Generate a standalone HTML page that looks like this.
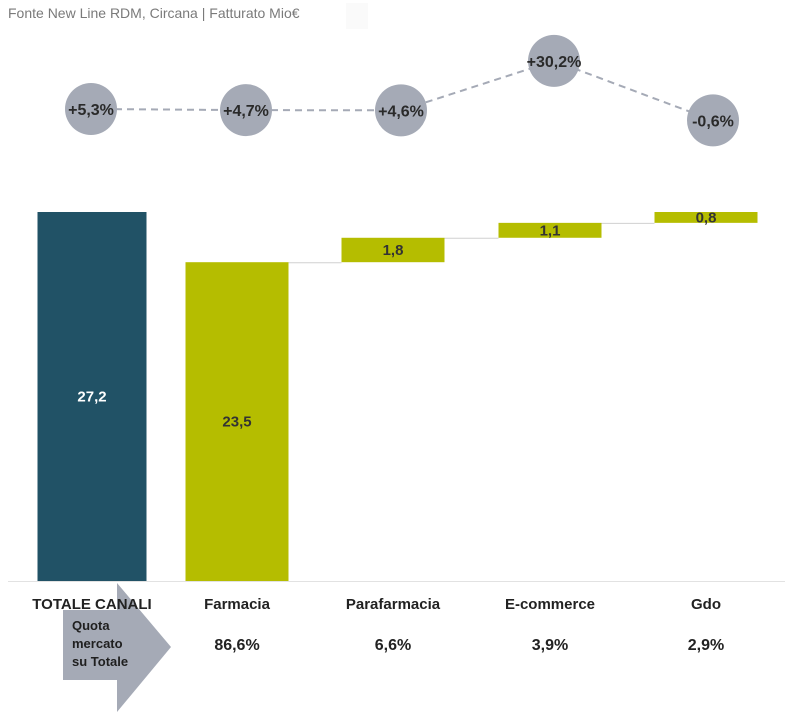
<!DOCTYPE html>
<html><head><meta charset="utf-8"><style>
body{margin:0;background:#fff;width:795px;height:719px;overflow:hidden;font-family:"Liberation Sans",sans-serif}
svg{display:block}
</style></head><body>
<svg width="795" height="719" id="c">
<text x="8" y="18" font-size="14" fill="#7a7a7a">Fonte New Line RDM, Circana | Fatturato Mio€</text>
<rect x="346" y="3" width="22" height="26" fill="#fafafa"/>
<line x1="8" y1="581.5" x2="785" y2="581.5" stroke="#e2e2e2"/>
<polygon points="63,610 117,610 117,583 171,647 117,712 117,680 63,680" fill="#a5aab6"/>
<text font-size="13" font-weight="bold" fill="#1f1f1f"><tspan x="72" y="630">Quota</tspan><tspan x="72" y="648">mercato</tspan><tspan x="72" y="666">su Totale</tspan></text>
<g id="g"></g>
</svg>
<script>
const categories=["TOTALE CANALI","Farmacia","Parafarmacia","E-commerce","Gdo"];
const values=[27.2,23.5,1.8,1.1,0.8];
const growth=[5.3,4.7,4.6,30.2,-0.6];
const growthLabels=["+5,3%","+4,7%","+4,6%","+30,2%","-0,6%"];
const shares=["","86,6%","6,6%","3,9%","2,9%"];
const NS="http://www.w3.org/2000/svg";
const g=document.getElementById('g');
const base=581, scale=369/27.2;
const centers=[92,237,393,550,706];
const widths=[109,103,103,103,103];
const gx=[91,246,401,554,713];
const y=v=>base-v*scale;
const gy=v=>119.2-1.93*v;
function mk(t,a){const e=document.createElementNS(NS,t);for(const k in a)e.setAttribute(k,a[k]);g.appendChild(e);return e;}
let cum=0;const tops=[];
for(let i=0;i<values.length;i++){
  let b0,b1;
  if(i===0){b0=0;b1=values[0];}else{b0=cum;b1=cum+values[i];cum=b1;}
  tops.push(b1);
  const r=mk('rect',{x:centers[i]-widths[i]/2,y:y(b1),width:widths[i],height:y(b0)-y(b1),fill:i===0?'#215266':'#b5bd00'});
  
  
  const t=mk('text',{x:centers[i],y:(y(b0)+y(b1))/2+5,'text-anchor':'middle','font-size':15,'font-weight':'bold',fill:i===0?'#fff':'#333'});
  t.textContent=String(values[i]).replace('.',',');
  
  
  const c=mk('text',{x:centers[i],y:609,'text-anchor':'middle','font-size':15,'font-weight':'bold',fill:'#222'});
  c.textContent=categories[i];
  
  
  if(shares[i]){const s=mk('text',{x:centers[i],y:650,'text-anchor':'middle','font-size':16,'font-weight':'bold',fill:'#222'});
  s.textContent=shares[i];
  
  }
}
for(let i=1;i<values.length-1;i++){
  const l=mk('line',{x1:centers[i]+widths[i]/2,x2:centers[i+1]-widths[i+1]/2,y1:y(tops[i])+0.5,y2:y(tops[i])+0.5,stroke:'#d0d0d0'});
  
  
}
const pts=growth.map((v,i)=>gx[i]+','+gy(v)).join(' ');
const pl=mk('polyline',{points:pts,fill:'none',stroke:'#a5aab6','stroke-width':2,'stroke-dasharray':'7,5'});


growth.forEach((v,i)=>{
  const c=mk('circle',{cx:gx[i],cy:gy(v),r:26,fill:'#a5aab6'});
  
  
  const t=mk('text',{x:gx[i],y:gy(v)+6,'text-anchor':'middle','font-size':16,'font-weight':'bold',fill:'#2a2a2a'});
  t.textContent=growthLabels[i];
  
  
});
</script>
</body></html>
